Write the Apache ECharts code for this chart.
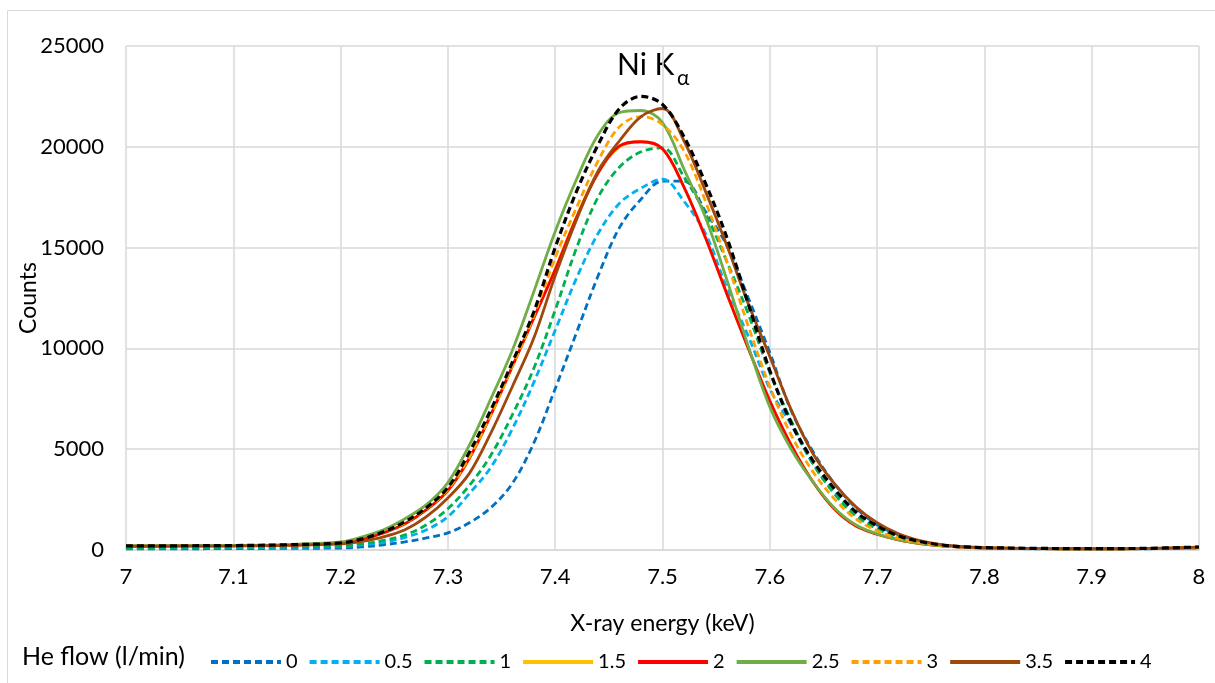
<!DOCTYPE html>
<html>
<head>
<meta charset="utf-8">
<script src="https://cdn.jsdelivr.net/npm/echarts@6/dist/echarts.min.js"></script>
<style>
	html, body { margin:0; padding:0; background:#fff; }
	#main { width:1215px; height:683px; }
</style>
</head>
<body>
<div id="main"></div>
<script>
// X-ray energy (keV)
var energy = [7.00,7.05,7.10,7.15,7.20,7.22,7.24,7.26,7.28,7.30,7.32,7.34,7.36,7.38,7.40,7.42,7.44,7.46,7.48,7.50,
	7.52,7.54,7.56,7.58,7.60,7.62,7.64,7.66,7.68,7.70,7.72,7.74,7.76,7.78,7.80,7.85,7.90,7.95,8.00];

// counts per He flow (l/min)
var flow0  = [60,60,70,80,100,150,260,400,600,850,1350,2100,3300,5300,8000,10800,13600,16000,17400,18300,
	18300,16800,15100,12500,9800,6900,4900,3300,2100,1250,750,430,250,150,90,60,50,60,100];
var flow05 = [90,100,110,130,170,250,380,620,1000,1650,2800,4100,6000,8300,10900,13500,15700,17200,17950,18400,
	17300,15700,13000,10600,8000,6200,4300,2900,1800,1100,650,380,230,140,100,70,60,70,110];
var flow1  = [120,130,140,160,200,300,480,750,1250,2050,3200,4700,6700,9000,11900,15000,17500,19000,19750,19950,
	18500,16700,14300,11700,8800,6400,4300,2800,1700,1050,620,370,220,140,100,70,60,70,120];
var flow15 = [190,200,210,240,330,540,850,1300,2000,2950,4550,6700,9100,11500,13950,16550,18750,20000,20250,19900,
	18000,15500,12700,10000,7400,5200,3400,2050,1200,780,500,320,200,140,100,70,60,70,130];
var flow2  = [190,200,210,240,330,540,850,1300,2000,2950,4550,6700,9100,11500,13900,16500,18700,20050,20250,19900,
	18000,15500,12700,10000,7400,5200,3400,2050,1200,780,500,320,200,140,100,70,60,70,130];
var flow25 = [210,220,230,270,400,650,1000,1550,2250,3350,5200,7500,9900,12800,15800,18400,20600,21700,21800,21200,
	18900,16500,13400,10100,7100,5000,3400,2100,1250,800,520,330,200,140,100,70,60,70,130];
var flow3  = [200,210,220,250,350,560,880,1350,2050,3000,4600,6700,9100,11600,14500,17000,19300,21000,21500,21100,
	19800,17300,14300,11100,8100,5700,3900,2550,1550,950,580,350,220,150,110,70,60,70,140];
var flow35 = [180,190,200,230,300,430,650,1000,1650,2580,3800,5800,8100,10500,13600,16400,18800,20300,21500,21900,
	20300,17800,15100,12200,9600,6950,4800,3300,2150,1350,800,460,270,170,120,80,70,80,140];
var flow4  = [200,210,220,260,350,550,900,1400,2100,3100,4850,6950,9300,11800,15000,17800,20100,21900,22500,22100,
	20500,18200,15500,12200,8900,6300,4450,3050,1900,1200,700,420,250,160,120,80,70,80,150];

var flowNames = ['0','0.5','1','1.5','2','2.5','3','3.5','4'];
var flowData = [flow0, flow05, flow1, flow15, flow2, flow25, flow3, flow35, flow4];
var flowColors = ['#0070C0','#00B0F0','#00B050','#FFC000','#FF0000','#70AD47','#FFA000','#9E480E','#000000'];
var flowDashed = [true, true, true, false, false, false, true, false, true];

var font = 'Lato';

function pairs(arr){
	var out = [];
	for (var i = 0; i < energy.length; i++) {
		out.push([energy[i], arr[i]]);
	}
	return out;
}

var series = [];
for (var k = 0; k < flowNames.length; k++) {
	series.push({
		name: flowNames[k],
		type: 'line',
		symbol: 'none',
		smooth: 0.35,
		data: pairs(flowData[k]),
		lineStyle: {
			color: flowColors[k],
			width: k == 8 ? 3.2 : 2.8,
			type: flowDashed[k] ? [7, 4] : 'solid'
		},
		itemStyle: { color: flowColors[k] }
	});
}

var myChart = echarts.init(document.getElementById('main'));
var option = {
	animation: false,
	grid: { left: 126, right: 16, top: 46, bottom: 133 },
	xAxis: {
		type: 'value',
		min: 7, max: 8, interval: 0.1,
		name: 'X-ray energy (keV)',
		nameLocation: 'middle',
		nameGap: 62,
		nameTextStyle: { fontFamily: font, fontSize: 23, color: '#000' },
		axisLine: { lineStyle: { color: '#D9D9D9', width: 1.5 } },
		axisTick: { show: false },
		axisLabel: {
			margin: 16, fontFamily: font, fontSize: 22, color: '#000',
			formatter: function(v){ return String(Math.round(v * 10) / 10); }
		},
		splitLine: { show: true, lineStyle: { color: '#D9D9D9', width: 1.5 } }
	},
	yAxis: {
		type: 'value',
		min: 0, max: 25000, interval: 5000,
		name: 'Counts',
		nameLocation: 'middle',
		nameGap: 86,
		nameMoveOverlap: false,
		nameTextStyle: { fontFamily: font, fontSize: 23, color: '#000' },
		axisLine: { show: false },
		axisTick: { show: false },
		axisLabel: {
			margin: 22, fontFamily: font, fontSize: 22, color: '#000',
			formatter: function(v){ return String(v); }
		},
		splitLine: { lineStyle: { color: '#D9D9D9', width: 1.5 } }
	},
	legend: {
		data: flowNames,
		left: 204,
		top: 647,
		itemWidth: 70,
		itemHeight: 14,
		itemGap: 10,
		itemStyle: { opacity: 0 },
		lineStyle: { width: 4 },
		textStyle: { fontFamily: font, fontSize: 20, color: '#000' }
	},
	graphic: [
		{
			type: 'rect',
			shape: { x: 7.5, y: 10.5, width: 1230, height: 690 },
			style: { fill: 'none', stroke: '#D9D9D9', lineWidth: 1 }
		},
		{
			type: 'text', left: 22, top: 644,
			style: { text: 'He flow (l/min)', fontFamily: font, fontSize: 25, fill: '#000' }
		},
		{
			type: 'text', left: 617, top: 50,
			style: { text: 'Ni K', fontFamily: font, fontSize: 30, fill: '#000' }
		},
		{
			type: 'text', left: 677, top: 68,
			style: { text: 'α', fontFamily: font, fontSize: 21, fill: '#000' }
		}
	],
	series: series
};
myChart.setOption(option);
</script>
</body>
</html>
